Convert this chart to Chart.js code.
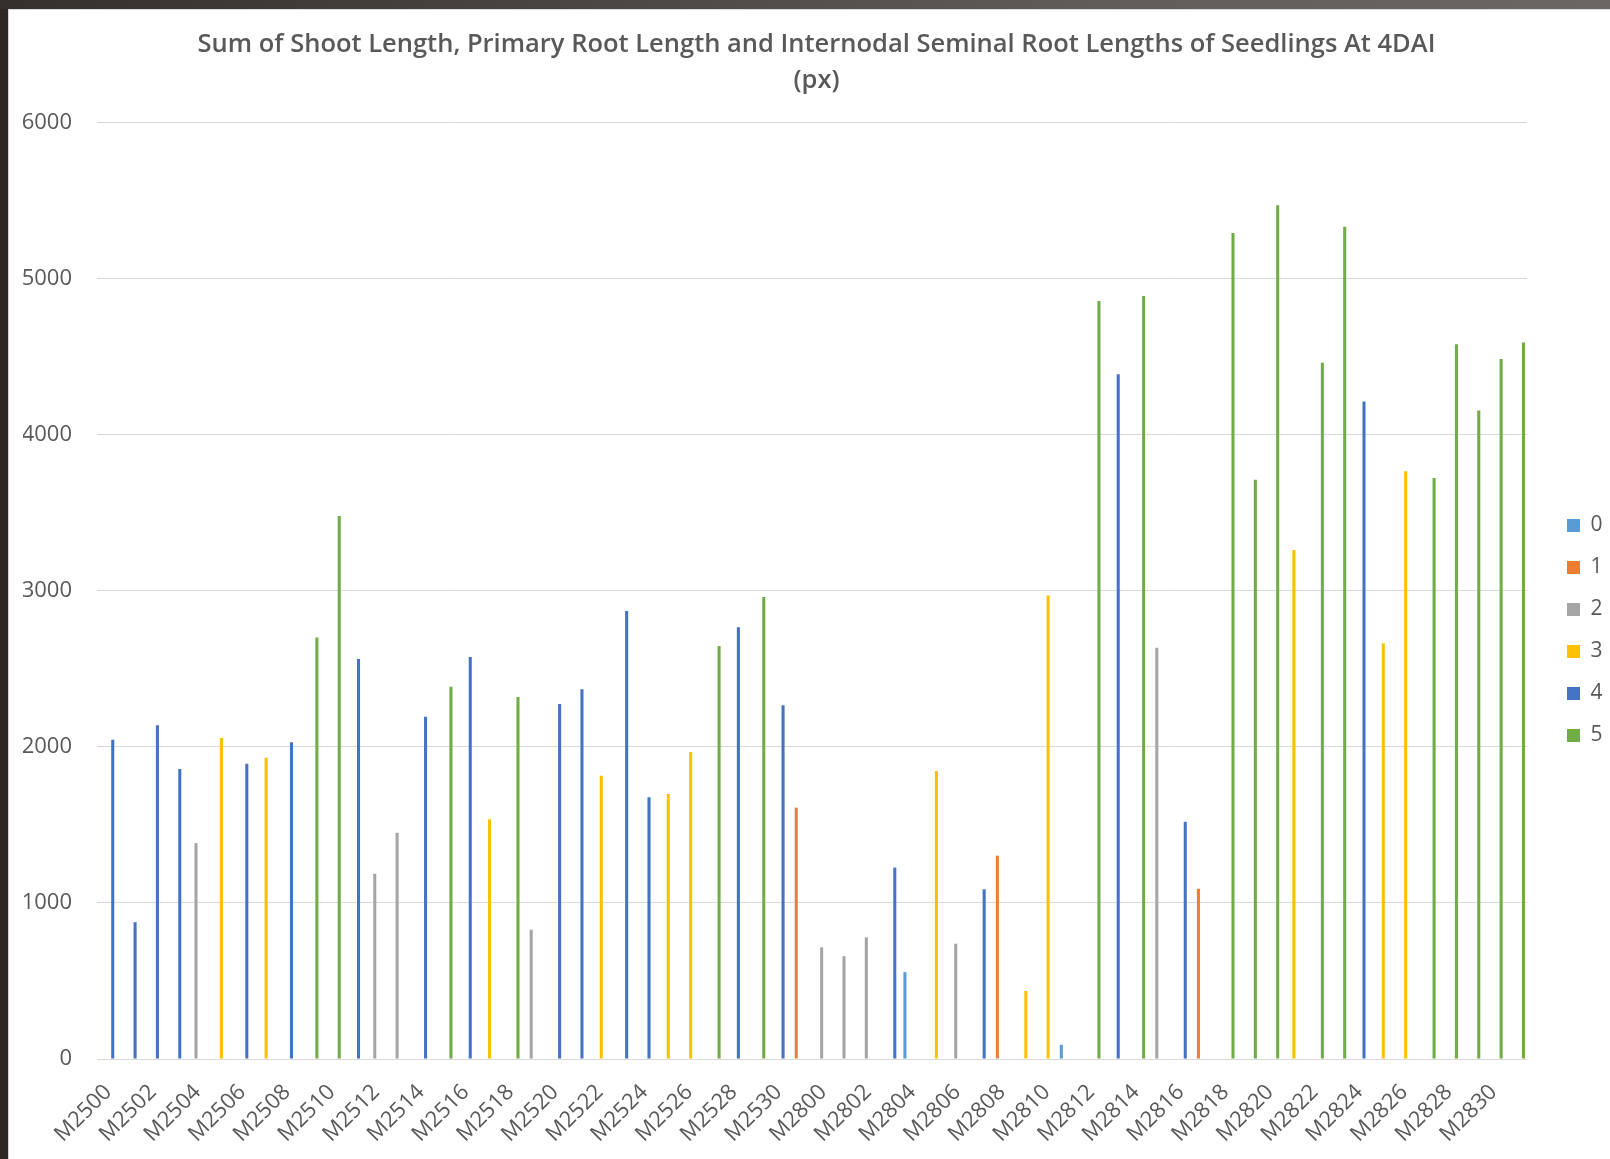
<!DOCTYPE html>
<html>
<head>
<meta charset="utf-8">
<script src="https://cdn.jsdelivr.net/npm/chart.js@4/dist/chart.umd.min.js"></script>
<style>
  html, body { margin: 0; padding: 0; width: 1610px; height: 1159px; overflow: hidden; background: #2c2825; }
  #topbar { position: absolute; left: 0; top: 0; width: 1610px; height: 9px;
            background: linear-gradient(to right, #34302d, #4a4541 35%, #625d58 70%, #6b6661); }
  #sheet { position: absolute; left: 8px; top: 9px; width: 1602px; height: 1150px; background: #fff;
           border-left: 1px solid #d4d4d4; border-top: 1px solid #dcdcdc; box-sizing: border-box; }
  #chart { position: absolute; left: 9px; top: 10px; }
</style>
</head>
<body>
<div id="topbar"></div>
<div id="sheet"></div>
<canvas id="chart" width="1601" height="1149"></canvas>
<script>
// Seedling lines, in plotting order
const lines = [
  'M2500','M2501','M2502','M2503','M2504','M2505','M2506','M2507',
  'M2508','M2509','M2510','M2511','M2512','M2513','M2514','M2515',
  'M2516','M2517','M2518','M2519','M2520','M2521','M2522','M2523',
  'M2524','M2525','M2526','M2527','M2528','M2529','M2530','M2531',
  'M2800','M2801','M2802','M2803','M2804','M2805','M2806','M2807',
  'M2808','M2809','M2810','M2811','M2812','M2813','M2814','M2815',
  'M2816','M2817','M2818','M2819','M2820','M2821','M2822','M2823',
  'M2824','M2825','M2826','M2827','M2828','M2829','M2830','M2831'
];

// Summed length (px) for each line
const totals = [
  2047, 877, 2140, 1858, 1384, 2057, 1893, 1931,
  2031, 2701, 3481, 2564, 1187, 1450, 2194, 2386,
  2576, 1536, 2320, 829, 2275, 2370, 1815, 2872,
  1678, 1699, 1967, 2647, 2768, 2962, 2268, 1611,
  716, 659, 780, 1227, 557, 1846, 739, 1088,
  1303, 436, 2971, 91, 4858, 4389, 4891, 2636,
  1520, 1091, 5295, 3713, 5473, 3262, 4462, 5335,
  4215, 2665, 3767, 3724, 4582, 4156, 4487, 4593
];

// Class (legend entry 0-5) each line belongs to
const classes = [
  4, 4, 4, 4, 2, 3, 4, 3,
  4, 5, 5, 4, 2, 2, 4, 5,
  4, 3, 5, 2, 4, 4, 3, 4,
  4, 3, 3, 5, 4, 5, 4, 1,
  2, 2, 2, 4, 0, 3, 2, 4,
  1, 3, 3, 0, 5, 4, 5, 2,
  4, 1, 5, 5, 5, 3, 5, 5,
  4, 3, 3, 5, 5, 5, 5, 5
];

const classNames = ['0', '1', '2', '3', '4', '5'];
const yTicks = [0, 1000, 2000, 3000, 4000, 5000, 6000];

const palette = ['#5B9BD5', '#ED7D31', '#A5A5A5', '#FFC000', '#4472C4', '#70AD47'];
const textGray = '#595959';
const fontFamily = '"Open Sans", "Noto Sans", sans-serif';

const datasets = classNames.map((name, k) => ({
  label: name,
  data: totals.map((v, i) => (classes[i] === k ? v : null)),
  backgroundColor: palette[k],
  borderWidth: 0,
  categoryPercentage: 0.82,
  barPercentage: 1.0,
  yAxisID: 'y'
}));

// Moves the legend block down so it sits level with the middle of the plot
const legendDrop = {
  id: 'legendDrop',
  afterLayout(chart) {
    const lg = chart.legend;
    if (!lg) return;
    const dy = 46;
    lg.top += dy;
    lg.bottom += dy;
  }
};

new Chart(document.getElementById('chart'), {
  type: 'bar',
  data: { labels: lines, datasets },
  plugins: [legendDrop],
  options: {
    responsive: false,
    animation: false,
    devicePixelRatio: 1,
    layout: { padding: { left: 14, right: 0, top: 0, bottom: 0 } },
    plugins: {
      tooltip: { enabled: false },
      title: {
        display: true,
        text: ['Sum of Shoot Length, Primary Root Length and Internodal Seminal Root Lengths of Seedlings At 4DAI', '(px)'],
        color: textGray,
        font: { family: fontFamily, size: 25.5, weight: '600', lineHeight: 1.41 },
        padding: { top: 17, bottom: 24 }
      },
      legend: {
        position: 'right',
        maxWidth: 64,
        labels: {
          boxWidth: 13,
          boxHeight: 13,
          padding: 21,
          color: textGray,
          font: { family: fontFamily, size: 21 }
        }
      }
    },
    scales: {
      x: {
        type: 'category',
        offset: true,
        grid: { display: false, drawTicks: false },
        border: { display: false },
        ticks: {
          autoSkip: false,
          minRotation: 45,
          maxRotation: 45,
          padding: 28,
          color: textGray,
          // tight line height keeps each slanted name ending right at its tick
          font: { family: fontFamily, size: 22, lineHeight: 0.2 },
          callback(value, index) {
            return index % 2 === 0 ? this.getLabelForValue(value) : '';
          }
        },
        afterFit(scale) {
          // fixed band for the slanted names; first name may hang under the value axis
          scale.height = 100;
          scale.paddingLeft = 0;
        }
      },
      y: {
        min: yTicks[0],
        max: yTicks[yTicks.length - 1],
        afterBuildTicks(scale) { scale.ticks = yTicks.map(v => ({ value: v })); },
        grid: { color: '#d9d9d9', lineWidth: 1, drawTicks: false },
        border: { display: false },
        ticks: {
          padding: 25,
          color: textGray,
          font: { family: fontFamily, size: 22 },
          callback(value) { return String(value); }
        },
        afterFit(scale) { scale.width = 74; }
      },
      gap: {
        type: 'linear',
        axis: 'y',
        position: 'right',
        display: true,
        ticks: { display: false },
        grid: { display: false, drawTicks: false },
        border: { display: false },
        afterFit(scale) { scale.width = 19; }
      }
    }
  }
});
</script>
</body>
</html>
